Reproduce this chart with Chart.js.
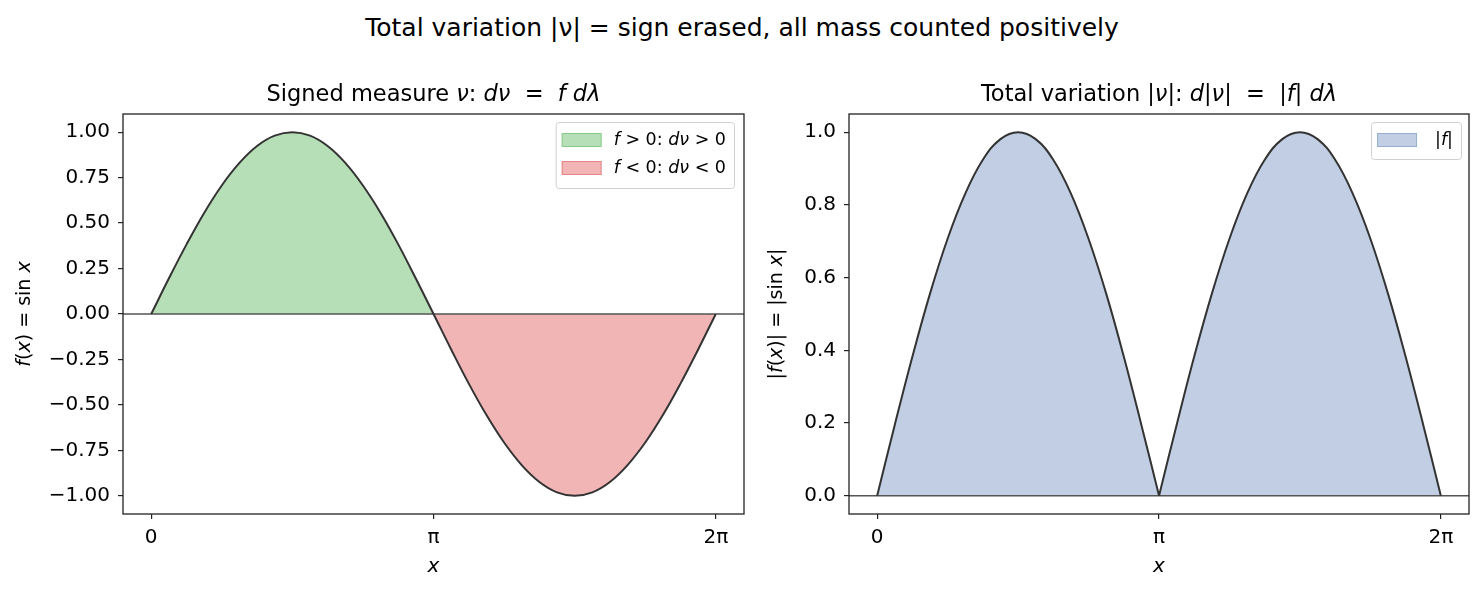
<!DOCTYPE html>
<html>
<head>
<meta charset="utf-8">
<script src="https://cdn.jsdelivr.net/npm/chart.js@4/dist/chart.umd.min.js"></script>
<style>
  html, body { margin: 0; padding: 0; background: #fff; }
  #wrap { position: relative; width: 1484px; height: 593px; overflow: hidden; }
  #suptitle { position: absolute; left: 0; top: 13px; width: 1484px; text-align: center;
    font: 25px 'DejaVu Sans', sans-serif; line-height: 30px; color: #000; }
  canvas { position: absolute; top: 0; }
  #c1 { left: 0; }
  #c2 { left: 760px; }
</style>
</head>
<body>
<div id="wrap">
  <div id="suptitle">Total variation |ν| = sign erased, all mass counted positively</div>
  <canvas id="c1" width="760" height="593"></canvas>
  <canvas id="c2" width="724" height="593"></canvas>
</div>
<script>
// ---- data ----
const xValues = [0, 0.196, 0.393, 0.589, 0.785, 0.982, 1.178, 1.374, 1.571, 1.767, 1.963, 2.160,
  2.356, 2.553, 2.749, 2.945, 3.142, 3.338, 3.534, 3.731, 3.927, 4.123, 4.320, 4.516, 4.712,
  4.909, 5.105, 5.301, 5.498, 5.694, 5.890, 6.087, 6.283];
const fValues = [0, 0.195, 0.383, 0.556, 0.707, 0.831, 0.924, 0.981, 1.00, 0.981, 0.924, 0.831,
  0.707, 0.556, 0.383, 0.195, 0, -0.195, -0.383, -0.556, -0.707, -0.831, -0.924, -0.981, -1.00,
  -0.981, -0.924, -0.831, -0.707, -0.556, -0.383, -0.195, 0];
const absValues = [0, 0.195, 0.383, 0.556, 0.707, 0.831, 0.924, 0.981, 1.00, 0.981, 0.924, 0.831,
  0.707, 0.556, 0.383, 0.195, 0, 0.195, 0.383, 0.556, 0.707, 0.831, 0.924, 0.981, 1.00,
  0.981, 0.924, 0.831, 0.707, 0.556, 0.383, 0.195, 0];
const xTickValues = [0, 3.1416, 6.2832];
const xTickLabels = ['0', 'π', '2π'];
const yTicksLeft = [-1, -0.75, -0.5, -0.25, 0, 0.25, 0.5, 0.75, 1];
const yTicksRight = [0, 0.2, 0.4, 0.6, 0.8, 1.0];

const FONT = "'DejaVu Sans', sans-serif";

function drawRich(ctx, segs, x, y, size, align) {
  const fonts = segs.map(s => (s[1] ? 'italic ' : '') + size + 'px ' + FONT);
  let widths = segs.map((s, i) => { ctx.font = fonts[i]; return ctx.measureText(s[0]).width; });
  const total = widths.reduce((a, b) => a + b, 0);
  let cx = align === 'center' ? x - total / 2 : (align === 'right' ? x - total : x);
  ctx.textBaseline = 'middle';
  ctx.textAlign = 'left';
  segs.forEach((s, i) => { ctx.font = fonts[i]; ctx.fillText(s[0], cx, y); cx += widths[i]; });
  return total;
}
function richWidth(ctx, segs, size) {
  let t = 0;
  segs.forEach(s => { ctx.font = (s[1] ? 'italic ' : '') + size + 'px ' + FONT; t += ctx.measureText(s[0]).width; });
  return t;
}

const decorPlugin = {
  id: 'decor',
  beforeDatasetsDraw(chart) {
    const { ctx, chartArea: a, scales: { y } } = chart;
    const y0 = y.getPixelForValue(0);
    ctx.save();
    ctx.strokeStyle = '#555';
    ctx.lineWidth = 1.5;
    ctx.beginPath(); ctx.moveTo(a.left, y0); ctx.lineTo(a.right, y0); ctx.stroke();
    ctx.restore();
  },
  afterDraw(chart) {
    const o = chart.options.plugins.decor;
    const { ctx, chartArea: a } = chart;
    ctx.save();
    // frame
    ctx.strokeStyle = '#222';
    ctx.lineWidth = 1.3;
    ctx.strokeRect(a.left, a.top, a.right - a.left, a.bottom - a.top);
    ctx.fillStyle = '#000';
    // title
    drawRich(ctx, o.title, (a.left + a.right) / 2, 95, 22.5, 'center');
    // x label
    drawRich(ctx, [['x', 1]], (a.left + a.right) / 2, 567, 20, 'center');
    // y label
    ctx.save();
    ctx.translate(o.ylabelX, (a.top + a.bottom) / 2);
    ctx.rotate(-Math.PI / 2);
    drawRich(ctx, o.ylabel, 0, 0, 19, 'center');
    ctx.restore();
    // legend
    const L = o.legend;
    const fs = 17.5;
    let tw = 0;
    L.forEach(it => { tw = Math.max(tw, richWidth(ctx, it.segs, fs)); });
    const padL = 6, sw = 40, gap = o.legendGap, padR = 8;
    const bw = padL + sw + gap + tw + padR;
    const bh = 14 + L.length * 28 - 4 + (L.length === 1 ? -1 : 0);
    const bx = a.right - o.legendRight - bw, by = a.top + 8;
    ctx.fillStyle = 'rgba(255,255,255,0.85)';
    ctx.strokeStyle = '#d0d0d0';
    ctx.lineWidth = 1;
    ctx.beginPath();
    ctx.roundRect(bx + 0.5, by + 0.5, bw, bh, 3);
    ctx.fill(); ctx.stroke();
    L.forEach((it, i) => {
      const cy = by + 18 + i * 28;
      ctx.fillStyle = it.color;
      ctx.fillRect(bx + padL, cy - 7, sw, 14);
      ctx.strokeStyle = it.color;
      ctx.strokeRect(bx + padL + 0.5, cy - 6.5, sw - 1, 13);
      ctx.fillStyle = '#000';
      drawRich(ctx, it.segs, bx + padL + sw + gap, cy, fs, 'left');
    });
    ctx.restore();
  }
};

function fmt(v, d) { return v.toFixed(d).replace('-', '\u2212'); }

function makeChart(id, cfg) {
  const ctx = document.getElementById(id).getContext('2d');
  return new Chart(ctx, {
    type: 'line',
    data: { datasets: cfg.datasets },
    plugins: [decorPlugin],
    options: {
      responsive: false,
      animation: false,
      devicePixelRatio: 1,
      layout: { padding: { top: 114, right: cfg.padRight, bottom: 0, left: 0 } },
      elements: { point: { radius: 0 }, line: { borderColor: '#333', borderWidth: 2, tension: 0.4 } },
      plugins: {
        legend: { display: false }, title: { display: false }, tooltip: { enabled: false },
        filler: { drawTime: 'beforeDatasetsDraw' },
        decor: cfg.decor
      },
      scales: {
        x: {
          type: 'linear', min: -0.314, max: 6.597,
          afterBuildTicks: s => { s.ticks = xTickValues.map(v => ({ value: v })); },
          afterFit: s => { s.height = 79; },
          border: { display: false },
          grid: { display: true, drawOnChartArea: false, drawTicks: true, tickLength: 5, color: '#222', lineWidth: 1.2 },
          ticks: { callback: (v, i) => xTickLabels[i], color: '#000', padding: 7, maxRotation: 0,
                   font: { family: FONT, size: 20 } }
        },
        y: {
          type: 'linear', min: cfg.ymin, max: cfg.ymax,
          afterBuildTicks: s => { s.ticks = cfg.yTicks.map(v => ({ value: v })); },
          afterFit: s => { s.width = cfg.yWidth; },
          border: { display: false },
          grid: { display: true, drawOnChartArea: false, drawTicks: true, tickLength: 5, color: '#222', lineWidth: 1.2 },
          ticks: { callback: v => fmt(v, cfg.dec), color: '#000', padding: 8,
                   font: { family: FONT, size: 20 } }
        }
      }
    }
  });
}

const pts = (xs, ys, a, b) => xs.slice(a, b).map((x, i) => ({ x: x, y: ys[a + i] }));

const GREEN = 'rgba(44,160,44,0.34)';
const RED = 'rgba(214,39,40,0.34)';
const BLUE = 'rgba(76,114,176,0.35)';

makeChart('c1', {
  datasets: [{
    data: pts(xValues, fValues, 0, xValues.length),
    fill: { target: 'origin', above: GREEN, below: RED }
  }],
  padRight: 16, ymin: -1.1, ymax: 1.1, yTicks: yTicksLeft, yWidth: 123, dec: 2,
  decor: {
    title: [['Signed measure ', 0], ['ν', 1], [': ', 0], ['dν', 1], ['  =  ', 0], ['f', 1], [' ', 0], ['dλ', 1]],
    ylabel: [['f', 1], ['(', 0], ['x', 1], [')', 0], [' = ', 0], ['sin', 0], [' ', 0], ['x', 1]],
    ylabelX: 25,
    legendRight: 10,
    legendGap: 12,
    legend: [
      { color: GREEN, segs: [['f', 1], [' > 0: ', 0], ['dν', 1], [' > 0', 0]] },
      { color: RED, segs: [['f', 1], [' < 0: ', 0], ['dν', 1], [' < 0', 0]] }
    ]
  }
});

makeChart('c2', {
  datasets: [
    { data: pts(xValues, absValues, 0, 17),
      fill: { target: 'origin', above: BLUE, below: BLUE } },
    { data: pts(xValues, absValues, 16, 33),
      fill: { target: 'origin', above: BLUE, below: BLUE } }
  ],
  padRight: 15, ymin: -0.05, ymax: 1.05, yTicks: yTicksRight, yWidth: 89, dec: 1,
  decor: {
    title: [['Total variation |', 0], ['ν', 1], ['|: ', 0], ['d', 1], ['|', 0], ['ν', 1], ['|', 0], ['  =  |', 0], ['f', 1], ['| ', 0], ['dλ', 1]],
    ylabel: [['|', 0], ['f', 1], ['(', 0], ['x', 1], [')|', 0], [' = ', 0], ['|sin', 0], [' ', 0], ['x', 1], ['|', 0]],
    ylabelX: 17,
    legendRight: 8,
    legendGap: 18,
    legend: [
      { color: BLUE, segs: [['|', 0], ['f', 1], ['|', 0]] }
    ]
  }
});
</script>
</body>
</html>
